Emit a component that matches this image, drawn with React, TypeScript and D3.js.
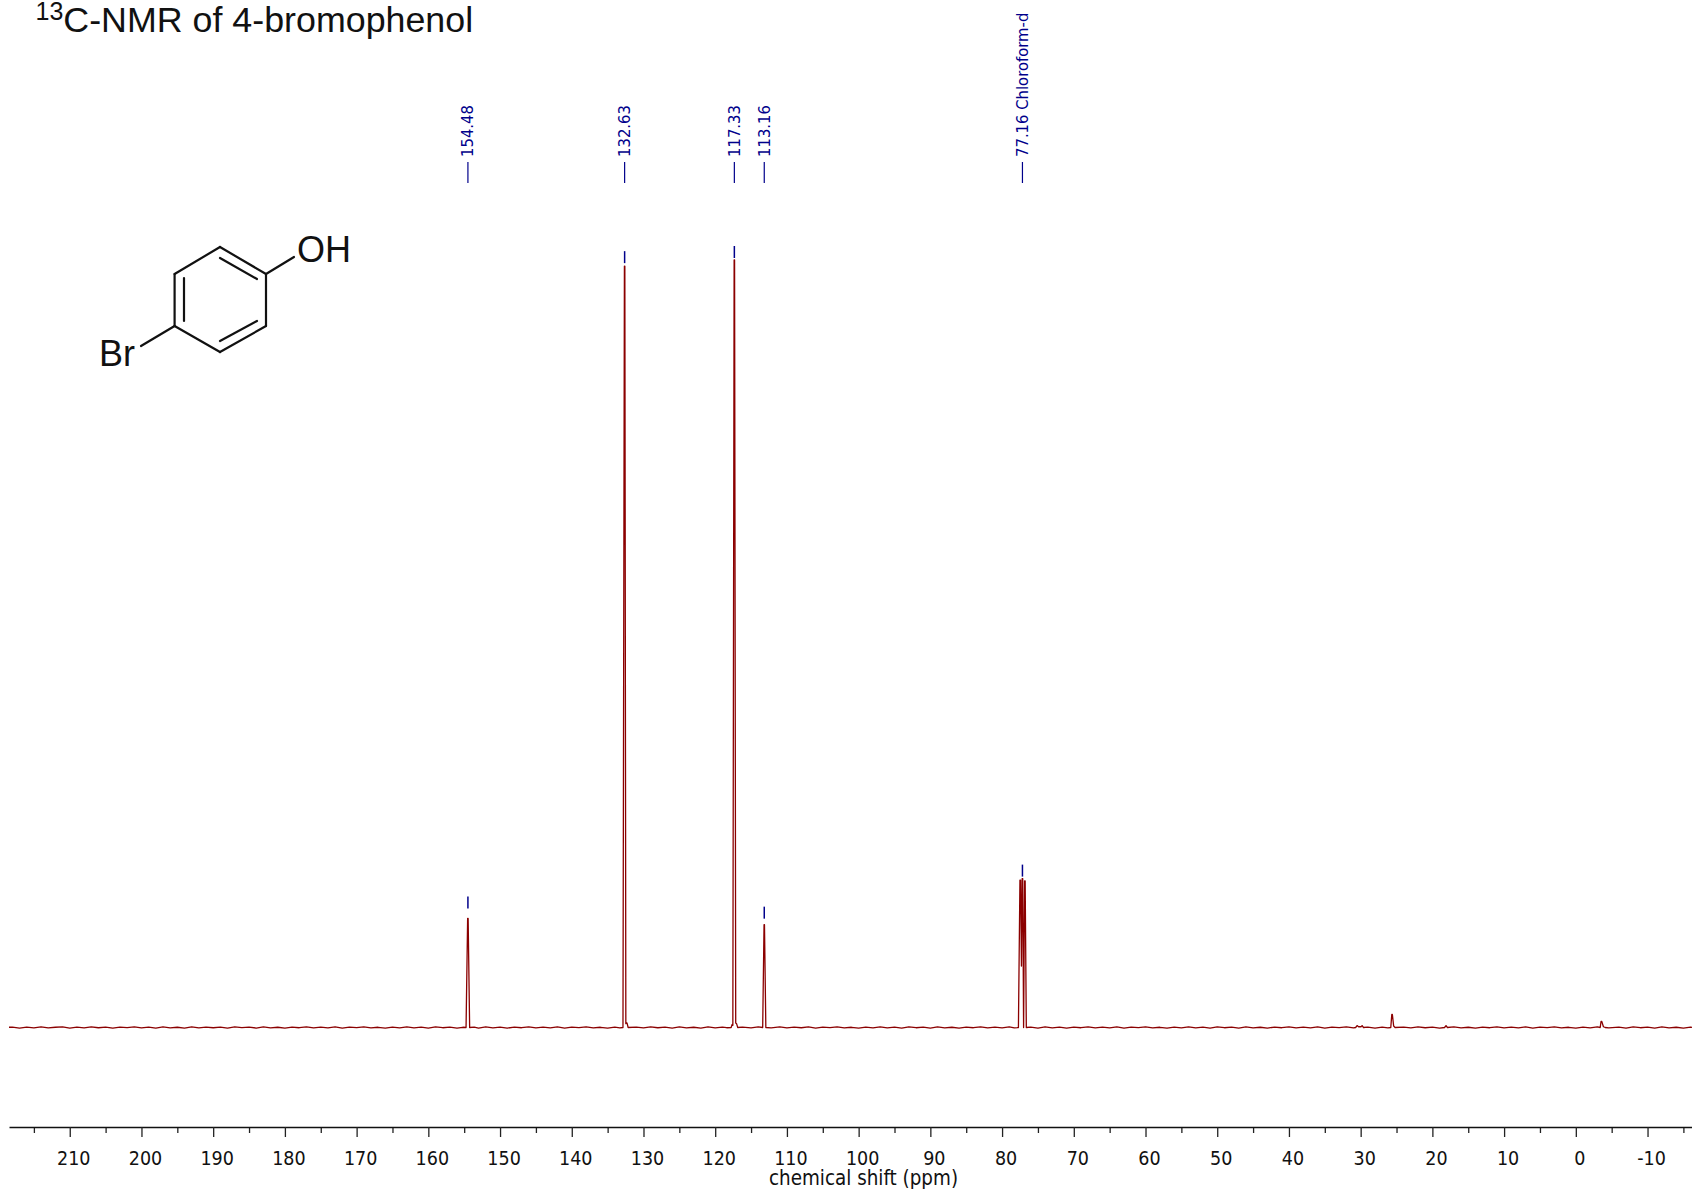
import React, { useEffect, useRef } from "react";
import * as d3 from "d3";

// chemical shift limits of the plot, ppm
const ppmRange = [218.47, -16.2];
const majorTicks = [210, 200, 190, 180, 170, 160, 150, 140, 130, 120, 110, 100, 90, 80, 70, 60, 50, 40, 30, 20, 10, 0, -10];
const minorTicks = [215, 205, 195, 185, 175, 165, 155, 145, 135, 125, 115, 105, 95, 85, 75, 65, 55, 45, 35, 25, 15, 5, -5, -15];

// [ppm, intensity]
const peakPoints = [
  [154.74, 0], [154.52, 14.2], [154.45, 14.2], [154.24, 0],
  [132.86, 0], [132.66, 99.2], [132.60, 99.2], [132.46, 0.5], [132.36, 0.6], [132.30, 0.6], [132.14, 0],
  [117.78, 0], [117.64, 0.4], [117.54, 0.3], [117.36, 100], [117.30, 100], [117.14, 0.6], [117.02, 0.5], [116.86, 0],
  [113.38, 0], [113.19, 13.4], [113.13, 13.4], [112.94, 0],
  [77.72, 0], [77.51, 19.2], [77.42, 19.2], [77.30, 8], [77.2, 19.4], [77.12, 19.4], [77.0, 0], [76.86, 19.1], [76.78, 19.1], [76.62, 0],
  [30.7, 0], [30.5, 0.25], [30.3, 0.1], [29.95, 0.1], [29.8, 0.25], [29.6, 0],
  [25.8, 0], [25.66, 1.7], [25.58, 1.7], [25.40, 0.2], [25.2, 0],
  [18.3, 0], [18.1, 0.25], [17.9, 0],
  [-3.4, 0], [-3.52, 0.8], [-3.62, 0.8], [-3.85, 0.1], [-4.1, 0],
];

const baselinePoints = [
  [218.47, 0.03], [218, 0.06], [217, -0.08], [216, 0.05], [215, -0.04], [214, 0.09], [213, -0.06], [212, 0.03], [211, 0.07], [210, -0.09], [209, 0.04],
  [208, -0.05], [207, 0.08], [206, -0.03], [205, 0.06], [204, -0.09], [203, 0.05], [202, -0.02], [201, 0.08], [200, -0.06], [199, 0.04],
  [198, -0.08], [197, 0.07], [196, -0.04], [195, 0.03], [194, -0.07], [193, 0.09], [192, -0.05], [191, 0.06], [190, -0.03], [189, 0.05],
  [188, -0.09], [187, 0.07], [186, -0.02], [185, 0.05], [184, -0.07], [183, 0.08], [182, -0.04], [181, 0.03], [180, -0.08], [179, 0.06],
  [178, -0.03], [177, 0.09], [176, -0.06], [175, 0.04], [174, -0.05], [173, 0.07], [172, -0.08], [171, 0.05], [170, -0.02], [169, 0.08],
  [168, -0.06], [167, 0.03], [166, -0.09], [165, 0.06], [164, -0.04], [163, 0.07], [162, -0.05], [161, 0.04], [160, -0.08], [159, 0.09],
  [158, -0.03], [157, 0.05], [156, -0.07], [155.2, 0.03], [153.6, 0.05], [153, -0.07], [152, 0.08], [151, -0.04], [150, 0.05], [149, -0.08],
  [148, 0.06], [147, -0.03], [146, 0.09], [145, -0.06], [144, 0.04], [143, -0.05], [142, 0.07], [141, -0.08], [140, 0.05], [139, -0.02],
  [138, 0.08], [137, -0.06], [136, 0.03], [135, -0.09], [134, 0.06], [133.3, -0.04], [131, 0.06], [130, -0.05], [129, 0.08], [128, -0.03],
  [127, 0.05], [126, -0.08], [125, 0.07], [124, -0.04], [123, 0.03], [122, -0.07], [121, 0.09], [120, -0.05], [119, 0.06], [118.4, -0.03],
  [116.2, 0.05], [115, -0.06], [114, 0.07], [112.2, -0.04], [111, 0.08], [110, -0.06], [109, 0.04], [108, -0.03], [107, 0.07], [106, -0.08],
  [105, 0.05], [104, -0.02], [103, 0.08], [102, -0.06], [101, 0.03], [100, -0.09], [99, 0.06], [98, -0.04], [97, 0.07], [96, -0.05],
  [95, 0.04], [94, -0.08], [93, 0.09], [92, -0.03], [91, 0.05], [90, -0.07], [89, 0.07], [88, -0.04], [87, 0.03], [86, -0.08],
  [85, 0.06], [84, -0.03], [83, 0.09], [82, -0.06], [81, 0.04], [80, -0.05], [79, 0.07], [78.3, -0.04], [76, 0.05], [75, -0.07],
  [74, 0.08], [73, -0.04], [72, 0.05], [71, -0.08], [70, 0.06], [69, -0.03], [68, 0.09], [67, -0.06], [66, 0.04], [65, -0.05],
  [64, 0.07], [63, -0.08], [62, 0.05], [61, -0.02], [60, 0.08], [59, -0.06], [58, 0.03], [57, -0.09], [56, 0.06], [55, -0.04],
  [54, 0.07], [53, -0.05], [52, 0.04], [51, -0.08], [50, 0.09], [49, -0.03], [48, 0.05], [47, -0.07], [46, 0.07], [45, -0.04],
  [44, 0.03], [43, -0.08], [42, 0.06], [41, -0.03], [40, 0.09], [39, -0.06], [38, 0.04], [37, -0.05], [36, 0.07], [35, -0.08],
  [34, 0.05], [33, -0.02], [32, 0.08], [31, -0.06], [29, 0.05], [28, -0.07], [27, 0.06], [26.2, -0.04], [24, 0.06], [23, -0.05],
  [22, 0.07], [21, -0.03], [20, 0.05], [19, -0.08], [17, 0.07], [16, -0.04], [15, 0.03], [14, -0.08], [13, 0.06], [12, -0.03],
  [11, 0.09], [10, -0.06], [9, 0.04], [8, -0.05], [7, 0.07], [6, -0.08], [5, 0.05], [4, -0.02], [3, 0.08], [2, -0.06],
  [1, 0.03], [0, -0.09], [-1, 0.06], [-2, -0.04], [-3, 0.07], [-4.6, -0.05], [-6, 0.04], [-7, -0.08], [-8, 0.09], [-9, -0.03],
  [-10, 0.05], [-11, -0.07], [-12, 0.07], [-13, -0.04], [-14, 0.03], [-15, -0.08], [-16, 0.06], [-16.2, 0.0],
];

// peak picks
const pickPpm = [154.48, 132.63, 117.33, 113.16, 77.16];
const pickLabels = ["154.48", "132.63", "117.33", "113.16", "77.16 Chloroform-d"];
const pickTops = [14.2, 99.2, 100, 13.4, 19.4];
// px between the top of a peak and its small blue marker
const pickGaps = [10, 3, 2, 6, 2];

const W = 1692;
const H = 1191;
const axisY = 1127;

const x = d3.scaleLinear().domain(ppmRange).range([9, W]);
const y = d3.scaleLinear().domain([0, 100]).range([1027.5, 260]);

const spectrum = [...peakPoints, ...baselinePoints].sort((a, b) => b[0] - a[0]);
const line = d3
  .line<number[]>()
  .x(d => x(d[0]))
  .y(d => y(d[1]));

const red = "#8b0000";
const blue = "#00008b";
const arial = "'Liberation Sans', Arial, sans-serif";
const tahoma = "'DejaVu Sans Condensed', 'DejaVu Sans', sans-serif";

// 4-bromophenol skeleton, not data
const bonds = [
  [220, 247, 266, 274], [266, 274, 266, 326], [266, 326, 220, 352], [220, 352, 174.6, 326], [174.6, 326, 174.6, 274], [174.6, 274, 220, 247],
  [220, 258, 257, 279], [184, 278, 184, 321], [220, 341, 257, 321],
  [266, 274, 294, 257], [174.6, 326, 141, 346],
];

const App = () => {
  const axisRef = useRef<SVGGElement>(null);

  useEffect(() => {
    const g = d3.select(axisRef.current);
    g.selectAll("*").remove();

    const minor = g.append("g").call(
      d3.axisBottom(x).tickValues(minorTicks).tickSize(6).tickSizeOuter(0).tickFormat(() => "")
    );
    minor.select(".domain").remove();
    minor.selectAll(".tick line").attr("stroke", "#222").attr("stroke-width", 1.3);

    const major = g.append("g").call(
      d3.axisBottom(x).tickValues(majorTicks).tickSize(10).tickSizeOuter(0).tickFormat(d => String(d))
    );
    major.select(".domain").attr("stroke", "#111").attr("stroke-width", 1.3);
    major.selectAll(".tick line").attr("stroke", "#222").attr("stroke-width", 1.3);
    major
      .selectAll(".tick text")
      .attr("x", 3.5)
      .attr("y", 38)
      .attr("dy", 0)
      .attr("fill", "#111")
      .attr("font-family", tahoma)
      .attr("font-size", 19.5);
  }, []);

  return (
    <svg width={W} height={H} style={{ position: "absolute", left: 0, top: 0, display: "block", background: "#fff" }}>
      <text x={35.5} y={32} fontFamily={arial} fontSize={35.8} fill="#111">
        <tspan fontSize={25} dy={-12}>13</tspan>
        <tspan dy={12}>C-NMR of 4-bromophenol</tspan>
      </text>

      <g stroke="#111" strokeWidth={2.2} strokeLinecap="round">
        {bonds.map((b, i) => (
          <line key={i} x1={b[0]} y1={b[1]} x2={b[2]} y2={b[3]} />
        ))}
      </g>
      <text x={297} y={262} fontFamily={arial} fontSize={36} fill="#111">OH</text>
      <text x={99} y={366} fontFamily={arial} fontSize={36} fill="#111">Br</text>

      {pickPpm.map((p, i) => (
        <g key={p} fill={blue} stroke={blue}>
          <text
            transform={`translate(${x(p) + 5.5},157) rotate(-90)`}
            fontFamily={tahoma}
            fontSize={16.5}
            stroke="none"
          >
            {pickLabels[i]}
          </text>
          <line x1={x(p)} x2={x(p)} y1={162} y2={183} strokeWidth={1.2} />
          <line
            x1={x(p)}
            x2={x(p)}
            y1={y(pickTops[i]) - pickGaps[i] - 12}
            y2={y(pickTops[i]) - pickGaps[i]}
            strokeWidth={1.5}
          />
        </g>
      ))}

      <path d={line(spectrum) || ""} fill="none" stroke={red} strokeWidth={1.3} strokeLinejoin="round" />

      <g ref={axisRef} transform={`translate(0,${axisY})`} />
      <text x={863.5} y={1185} textAnchor="middle" fontFamily={tahoma} fontSize={20.4} fill="#111">
        chemical shift (ppm)
      </text>
    </svg>
  );
};

export default App;
